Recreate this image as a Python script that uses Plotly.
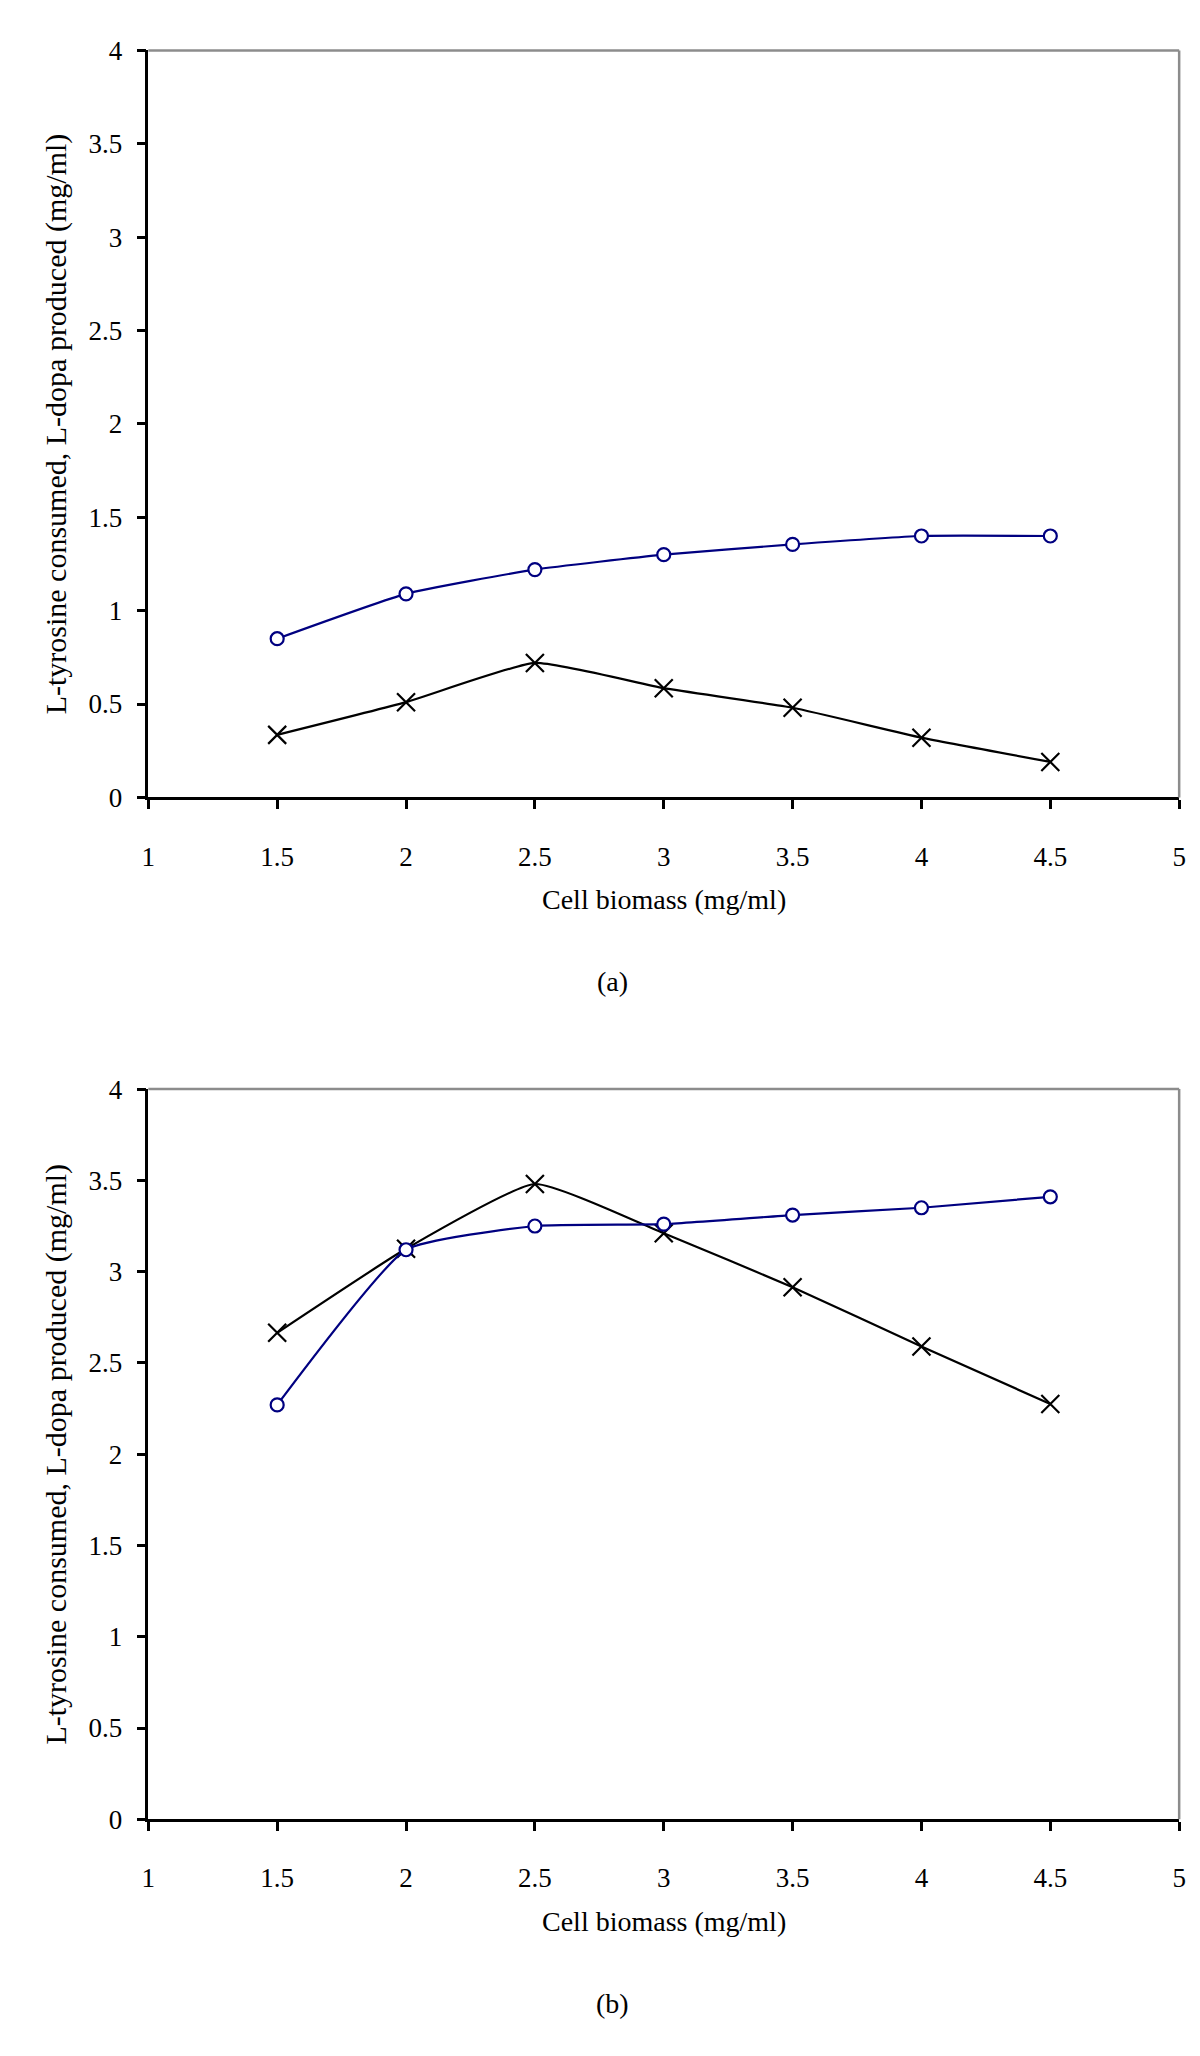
import plotly.graph_objects as go

# ---- data ----
biomass = [1.5, 2.0, 2.5, 3.0, 3.5, 4.0, 4.5]

# panel (a)
a_circle = [0.85, 1.09, 1.22, 1.30, 1.355, 1.40, 1.40]
a_cross = [0.335, 0.51, 0.72, 0.585, 0.48, 0.32, 0.19]

# panel (b)
b_circle = [2.27, 3.12, 3.25, 3.26, 3.31, 3.35, 3.41]
b_cross = [2.665, 3.125, 3.48, 3.21, 2.915, 2.59, 2.275]

x_ticks = [1, 1.5, 2, 2.5, 3, 3.5, 4, 4.5, 5]
y_ticks = [0, 0.5, 1, 1.5, 2, 2.5, 3, 3.5, 4]

x_title = "Cell biomass (mg/ml)"
y_title = "L-tyrosine consumed, L-dopa produced (mg/ml)"
panel_labels = ["(a)", "(b)"]

# ---- styling ----
W, H = 1200, 2056
FONT = "Liberation Serif, Times New Roman, serif"
NAVY = "#000080"

x_dom = [143 / W, 1186 / W]
y_doms = [[1 - 794 / H, 1 - 36 / H], [1 - 1831 / H, 1 - 1090 / H]]

fig = go.Figure()

panels = [(a_circle, a_cross), (b_circle, b_cross)]
for i, (circ, cross) in enumerate(panels):
    xa = "x" if i == 0 else "x2"
    ya = "y" if i == 0 else "y2"
    fig.add_trace(go.Scatter(
        x=biomass, y=cross, xaxis=xa, yaxis=ya, mode="lines+markers",
        line=dict(color="black", width=2.2, shape="spline", smoothing=0.45),
        marker=dict(symbol="x-thin-open", size=18, color="black",
                    line=dict(color="black", width=2.2)),
        showlegend=False))
    fig.add_trace(go.Scatter(
        x=biomass, y=circ, xaxis=xa, yaxis=ya, mode="lines+markers",
        line=dict(color=NAVY, width=2.2, shape="spline", smoothing=0.45),
        marker=dict(symbol="circle", size=13, color="white",
                    line=dict(color=NAVY, width=2.2)),
        showlegend=False))

axis_common = dict(
    showgrid=False, zeroline=False, showline=True, linecolor="black",
    linewidth=2.5, ticks="outside", ticklen=9, tickwidth=2.5, tickcolor="black",
    tickfont=dict(family=FONT, size=27, color="black"),
)

layout = dict(
    width=W, height=H, margin=dict(l=0, r=0, t=0, b=0),
    paper_bgcolor="white", plot_bgcolor="white",
    font=dict(family=FONT, color="black"),
)
for i in range(2):
    xs = "xaxis" if i == 0 else "xaxis2"
    ys = "yaxis" if i == 0 else "yaxis2"
    layout[xs] = dict(axis_common, domain=x_dom, range=[1, 5],
                      tickvals=x_ticks, ticklabelstandoff=24,
                      anchor="y" if i == 0 else "y2")
    layout[ys] = dict(axis_common, domain=y_doms[i], range=[0, 4],
                      tickvals=y_ticks, ticklabelstandoff=9,
                      anchor="x" if i == 0 else "x2")
fig.update_layout(**layout)

shapes = []
annotations = []
for i in range(2):
    xr = "x domain" if i == 0 else "x2 domain"
    yr = "y domain" if i == 0 else "y2 domain"
    shapes.append(dict(type="line", xref=xr, yref=yr, x0=0, x1=1, y0=1, y1=1,
                       line=dict(color="#8c8c8c", width=2.5)))
    shapes.append(dict(type="line", xref=xr, yref=yr, x0=1, x1=1, y0=0, y1=1,
                       line=dict(color="#8c8c8c", width=2.5)))
    y0, y1 = y_doms[i]
    annotations.append(dict(text=x_title, xref="paper", yref="paper",
                            x=(x_dom[0] + x_dom[1]) / 2, y=y0 - 104 / H,
                            showarrow=False, font=dict(size=28, family=FONT),
                            xanchor="center", yanchor="middle"))
    annotations.append(dict(text=y_title, xref="paper", yref="paper",
                            x=50 / W, y=(y0 + y1) / 2, textangle=-90,
                            showarrow=False, font=dict(size=30, family=FONT),
                            xanchor="center", yanchor="middle"))
    annotations.append(dict(text=panel_labels[i], xref="paper", yref="paper",
                            x=613 / W, y=y0 - 187 / H,
                            showarrow=False, font=dict(size=28, family=FONT),
                            xanchor="center", yanchor="middle"))
fig.update_layout(shapes=shapes, annotations=annotations)

fig.write_html("out.html", config={"displayModeBar": False},
               post_script="document.body.style.margin='0';")
